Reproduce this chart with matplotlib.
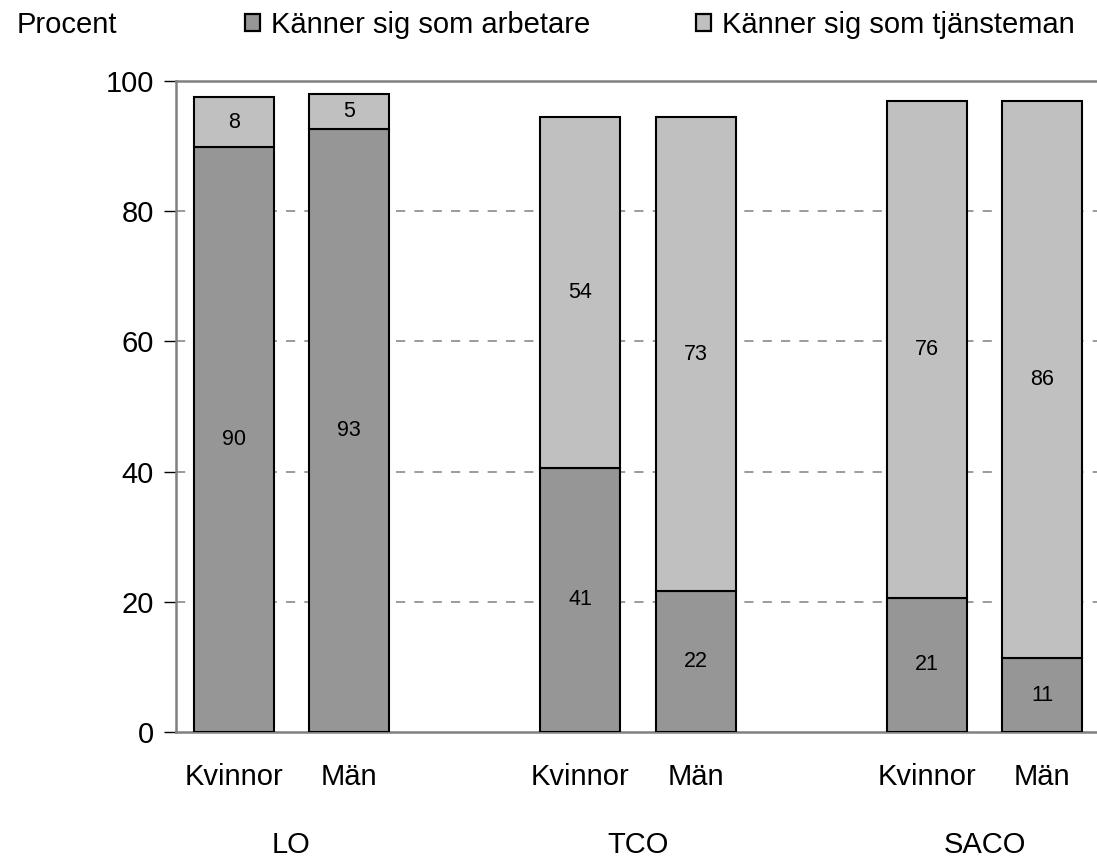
import matplotlib
matplotlib.use("Agg")
import matplotlib.pyplot as plt
import matplotlib.transforms as mtransforms
from matplotlib.patches import Patch

plt.rcParams['font.family'] = ['Liberation Sans', 'DejaVu Sans']

groups = ["LO", "TCO", "SACO"]
genders = ["Kvinnor", "Män"]
positions = [0, 1, 3, 4, 6, 7]
arbetare = [89.9, 92.6, 40.6, 21.6, 20.6, 11.3]
tjansteman = [7.6, 5.4, 53.8, 72.8, 76.3, 85.7]
series_names = ["Känner sig som arbetare", "Känner sig som tjänsteman"]
yticks = [0, 20, 40, 60, 80, 100]

c_dark = "#969696"
c_light = "#c0c0c0"
spine_c = "#808080"
FS = 21

W, H = 1097, 859
fig = plt.figure(figsize=(W / 100, H / 100), dpi=100)
left_px, right_px, top_px, bot_px = 176, 1097, 81, 732
ax = fig.add_axes([left_px / W, 1 - bot_px / H, (right_px - left_px) / W, (bot_px - top_px) / H])

bw = 0.69
ax.bar(positions, arbetare, width=bw, color=c_dark, edgecolor="black", linewidth=1.5, zorder=3)
ax.bar(positions, tjansteman, width=bw, bottom=arbetare, color=c_light, edgecolor="black",
       linewidth=1.5, zorder=3)

for p, a, t in zip(positions, arbetare, tjansteman):
    ax.text(p, a / 2, f"{a:.0f}", ha="center", va="center", fontsize=15.5, zorder=4)
    ax.text(p, a + t / 2, f"{t:.0f}", ha="center", va="center", fontsize=15.5, zorder=4)

ax.set_ylim(0, 100)
ax.set_xlim(-0.5, -0.5 + (right_px - left_px) / 115.5)
ax.set_yticks(yticks)
ax.set_yticklabels([str(v) for v in yticks], fontsize=FS)
ax.tick_params(axis="y", length=9, width=1, color="black", pad=7, direction="out")

ax.set_xticks(positions)
ax.set_xticklabels(genders * 3, fontsize=FS)
ax.tick_params(axis="x", length=0, pad=22)

for v in yticks[1:-1]:
    ax.axhline(v, color=spine_c, linestyle=(0, (6, 6)), linewidth=1.1, zorder=1)

for s in ["left", "bottom", "top"]:
    ax.spines[s].set_color(spine_c)
    ax.spines[s].set_linewidth(1.8)
ax.spines["right"].set_visible(False)

trans = mtransforms.blended_transform_factory(ax.transData, ax.transAxes)
for i, g in enumerate(groups):
    cx = (positions[2 * i] + positions[2 * i + 1]) / 2
    ax.text(cx, -0.174, g, transform=trans, ha="center", va="center", fontsize=FS)

fig.text(17 / W, 1 - 33 / H, "Procent", ha="left", va="baseline", fontsize=FS)

colors = [c_dark, c_light]
anchors = [245, 696]
for name, col, xa in zip(series_names, colors, anchors):
    h = Patch(facecolor=col, edgecolor="black", linewidth=1.6)
    fig.legend([h], [name], loc="center left", bbox_to_anchor=(xa / W, 1 - 25 / H),
               frameon=False, fontsize=FS, handlelength=0.5, handleheight=0.5,
               handletextpad=0.4, borderpad=0, borderaxespad=0)

fig.savefig("out.png", dpi=100)
